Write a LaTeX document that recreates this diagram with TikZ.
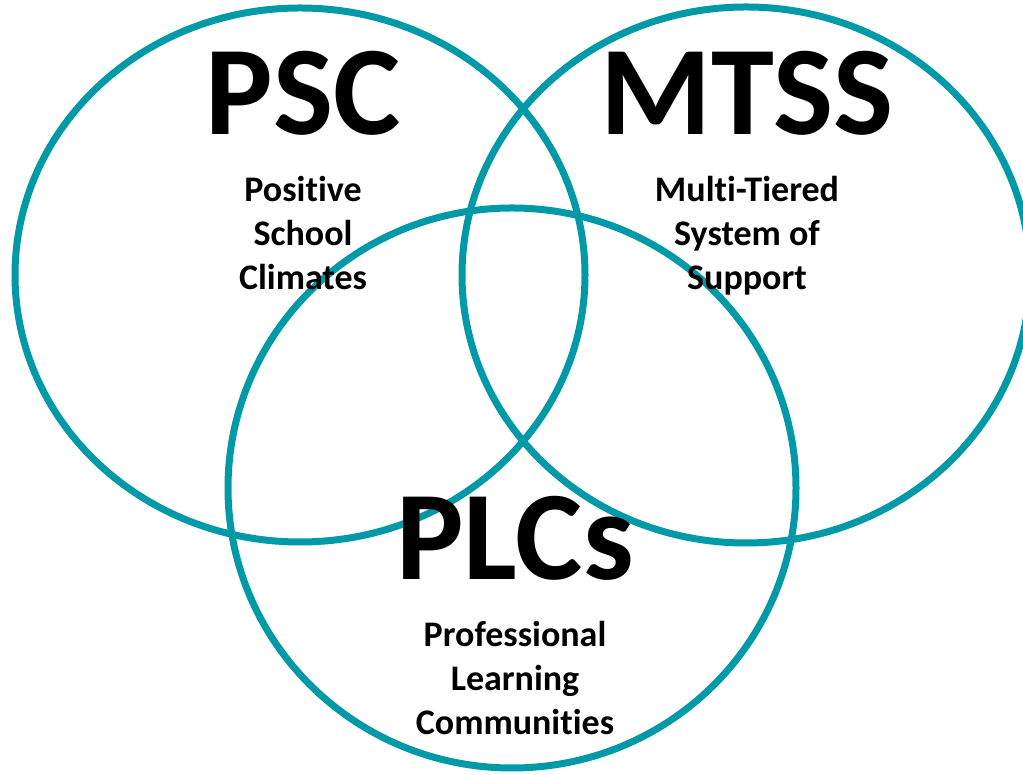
\documentclass[tikz,border=0pt]{standalone}
\usepackage{fontspec}
\setmainfont[Ligatures=CommonOff]{Carlito}
\usetikzlibrary{positioning}
\definecolor{tealring}{RGB}{0,153,168}
\begin{document}
\begin{tikzpicture}[x=1pt,y=1pt,
  ring/.style={draw=tealring, line width=7pt},
  title/.style={font=\fontsize{127}{127}\selectfont\bfseries, inner sep=0pt, anchor=base},
  subtitle/.style={font=\fontsize{36}{44}\selectfont\bfseries, align=center, inner sep=0pt, anchor=north}]
\useasboundingbox (0,0) rectangle (1023,775);
% Three overlapping rings
\draw[ring] (300,500) ellipse (285 and 267);
\draw[ring] (746,500) ellipse (284 and 268);
\draw[ring] (512,287) ellipse (284 and 280);
% Left ring
\node[title] (psc) at (303,640) {PSC};
\node[subtitle, below=41pt of psc.base] (psctext) {Positive\\School\\Climates};
% Right ring
\node[title] (mtss) at (747,640) {MTSS};
\node[subtitle, below=41pt of mtss.base] (mtsstext) {Multi-Tiered\\System of\\Support};
% Bottom ring
\node[title] (plcs) at (515,195) {PLCs};
\node[subtitle, below=41pt of plcs.base] (plcstext) {Professional\\Learning\\Communities};
\end{tikzpicture}
\end{document}
